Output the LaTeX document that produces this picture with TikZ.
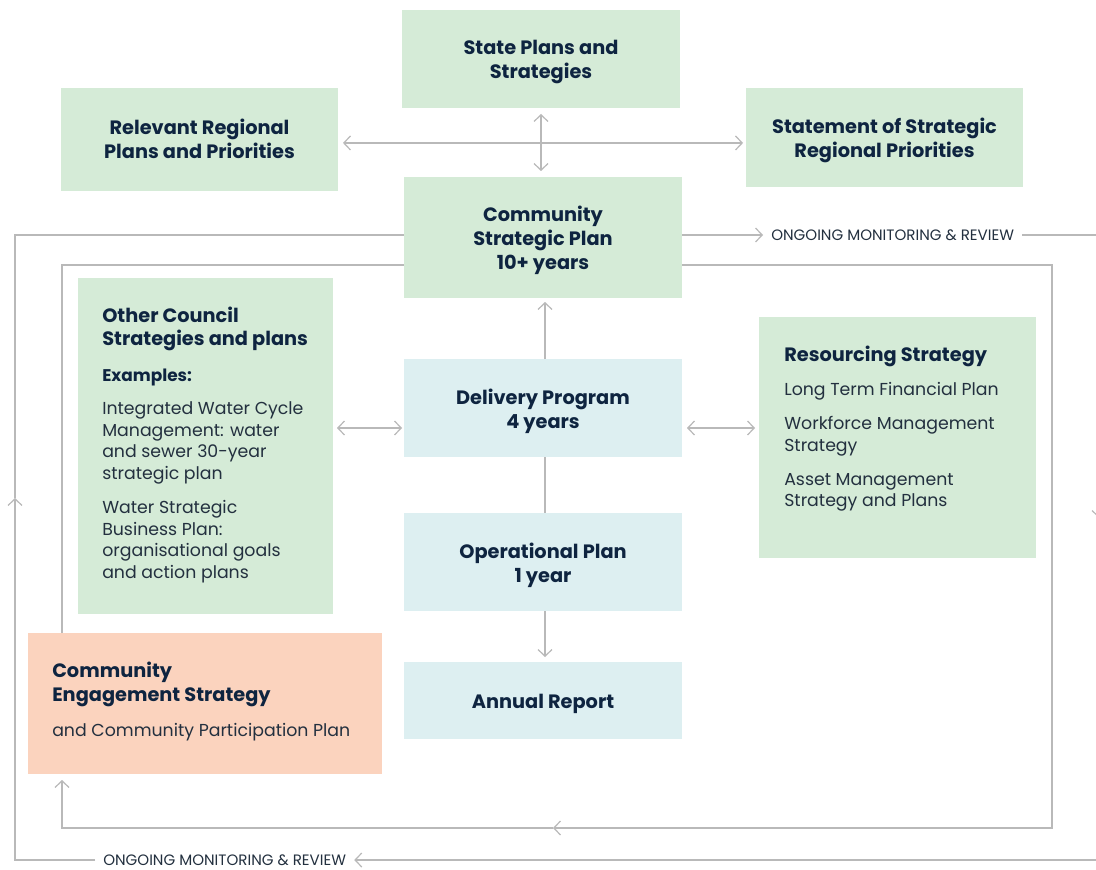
\documentclass[tikz,border=0pt]{standalone}
\usepackage{fontspec}
\setmainfont{Poppins}
\usetikzlibrary{arrows.meta}
\definecolor{boxgreen}{HTML}{D5EBD7}
\definecolor{boxblue}{HTML}{DDEFF1}
\definecolor{boxpeach}{HTML}{FBD3BE}
\definecolor{inknavy}{HTML}{0E2440}
\definecolor{inkbody}{HTML}{23303F}
\definecolor{wire}{HTML}{B9B9B9}
\begin{document}
\begin{tikzpicture}[x=0.75pt,y=-0.75pt,
  chev/.tip={Straight Barb[length=5pt,width=10.5pt]},
  panel/.style={inner sep=0pt,outer sep=0pt,anchor=north west},
  size/.style 2 args={minimum width=#1*0.75pt,minimum height=#2*0.75pt},
  greenpanel/.style={panel,fill=boxgreen},
  bluepanel/.style={panel,fill=boxblue},
  peachpanel/.style={panel,fill=boxpeach},
  caption/.style={inner sep=0pt,align=center,yshift=-2.25pt,
    text=inknavy,font=\fontsize{14.5}{18}\selectfont\bfseries},
  headline/.style={anchor=base west,inner sep=0pt,text=inknavy,font=\fontsize{14.5}{18}\selectfont\bfseries},
  subline/.style={anchor=base west,inner sep=0pt,text=inknavy,font=\fontsize{12.7}{16}\selectfont\bfseries},
  bodyline/.style={anchor=base west,inner sep=0pt,text=inkbody,font=\fontsize{13}{16}\selectfont},
  tag/.style={anchor=west,inner xsep=6pt,inner ysep=0pt,text height=8pt,text depth=0pt,
    text=inkbody,font=\fontsize{11.3}{13}\selectfont},
  wireline/.style={draw=wire,line width=0.9pt}]

\useasboundingbox (0,0) rectangle (1096,870);
\clip (0,0) rectangle (1096,870);
\fill[white] (0,0) rectangle (1096,870);

% planning framework boxes
\node[greenpanel,size={278}{98}]  (state)       at (402,10)  {};
\node[greenpanel,size={277}{103}] (regional)    at (61,88)   {};
\node[greenpanel,size={277}{99}]  (statement)   at (746,88)  {};
\node[greenpanel,size={278}{121}] (csp)         at (404,177) {};
\node[greenpanel,size={255}{336}] (council)     at (78,278)  {};
\node[bluepanel,size={278}{98}]   (delivery)    at (404,359) {};
\node[bluepanel,size={278}{98}]   (operational) at (404,513) {};
\node[bluepanel,size={278}{77}]   (annual)      at (404,662) {};
\node[greenpanel,size={277}{241}] (resourcing)  at (759,317) {};
\node[peachpanel,size={354}{141}] (engagement)  at (28,633)  {};

% centred box titles
\node[caption] (state-t)       at (state.center)       {State Plans and\\Strategies};
\node[caption,yshift=3pt] (regional-t) at (regional.center) {Relevant Regional\\Plans and Priorities};
\node[caption] (statement-t)   at (statement.center)   {Statement of Strategic\\Regional Priorities};
\node[caption] (csp-t)         at (csp.center)         {Community\\Strategic Plan\\10+ years};
\node[caption] (delivery-t)    at (delivery.center)    {Delivery Program\\4 years};
\node[caption] (operational-t) at (operational.center) {Operational Plan\\1 year};
\node[caption] (annual-t)      at (annual.center)      {Annual Report};

% other council strategies
\node[headline] (council-h1) at (102,322) {Other Council};
\node[headline] (council-h2) at (102,345) {Strategies and plans};
\node[subline]  (council-ex) at (102,381) {Examples:};
\node[bodyline] (council-a1) at (102,414) {Integrated Water Cycle};
\node[bodyline] (council-a2) at (102,436) {Management: water};
\node[bodyline] (council-a3) at (102,457) {and sewer 30-year};
\node[bodyline] (council-a4) at (102,479) {strategic plan};
\node[bodyline] (council-b1) at (102,513) {Water Strategic};
\node[bodyline] (council-b2) at (102,535) {Business Plan:};
\node[bodyline] (council-b3) at (102,556) {organisational goals};
\node[bodyline] (council-b4) at (102,578) {and action plans};

% resourcing strategy
\node[headline] (res-h)  at (784,361) {Resourcing Strategy};
\node[bodyline] (res-a)  at (784,395) {Long Term Financial Plan};
\node[bodyline] (res-b1) at (784,429) {Workforce Management};
\node[bodyline] (res-b2) at (784,451) {Strategy};
\node[bodyline] (res-c1) at (784,485) {Asset Management};
\node[bodyline] (res-c2) at (784,506) {Strategy and Plans};

% community engagement
\node[headline] (eng-h1) at (52,677) {Community};
\node[headline] (eng-h2) at (52,701) {Engagement Strategy};
\node[bodyline] (eng-b)  at (52,736) {and Community Participation Plan};

% outer monitoring loop
\coordinate (oTR) at (1099,235);
\coordinate (oRM) at (1099,518);
\coordinate (oBR) at (1099,860);
\coordinate (oBL) at (15,860);
\coordinate (oLM) at (15,498);
\coordinate (oTL) at (15,235);
\node[tag] (review-top)    at (763,235) {ONGOING MONITORING \& REVIEW};
\node[tag] (review-bottom) at (95,860)  {ONGOING MONITORING \& REVIEW};
\draw[wireline,-chev] (csp.east |- oTL) -- (review-top.west);
\draw[wireline,-chev] (review-top.east) -- (oTR) -- (oRM);
\draw[wireline,-chev] (oRM) -- (oBR) -- (review-bottom.east);
\draw[wireline,-chev] (review-bottom.west) -- (oBL) -- (oLM);
\draw[wireline] (oLM) -- (oTL) -- (csp.west |- oTL);

% inner loop
\coordinate (iTR) at (1052,265);
\coordinate (iBR) at (1052,828);
\coordinate (iBM) at (553,828);
\coordinate (iBL) at (62,828);
\coordinate (iTL) at (62,265);
\draw[wireline,-chev] (csp.east |- iTR) -- (iTR) -- (iBR) -- (iBM);
\draw[wireline,-chev,shorten >=4.5pt] (iBM) -- (iBL) -- (iBL |- engagement.south);
\draw[wireline] (engagement.north -| iTL) -- (iTL) -- (csp.west |- iTL);

% links between plans
\coordinate (rL) at ([yshift=-2.6pt]regional.east);
\draw[wireline,chev-chev,shorten <=3.75pt,shorten >=2.25pt] (rL) -- (rL -| statement.west);
\draw[wireline,chev-chev,shorten <=4.5pt,shorten >=4.5pt] (state.south) -- (state.south |- csp.north);
\coordinate (dL) at ([yshift=-15pt]delivery.west);
\coordinate (dR) at ([yshift=-15pt]delivery.east);
\draw[wireline,chev-chev,shorten <=3pt,shorten >=1.5pt] (dL -| council.east) -- (dL);
\draw[wireline,chev-chev,shorten <=3.75pt,shorten >=3pt] (dR) -- (dR -| resourcing.west);
\coordinate (dT) at ([xshift=1.5pt]delivery.north);
\coordinate (dB) at ([xshift=1.5pt]delivery.south);
\draw[wireline,-chev,shorten >=3pt] (dT) -- (dT |- csp.south);
\draw[wireline] (dB) -- (dB |- operational.north);
\coordinate (oB) at ([xshift=1.5pt]operational.south);
\draw[wireline,-chev,shorten >=3.75pt] (oB) -- (oB |- annual.north);

\end{tikzpicture}
\end{document}
